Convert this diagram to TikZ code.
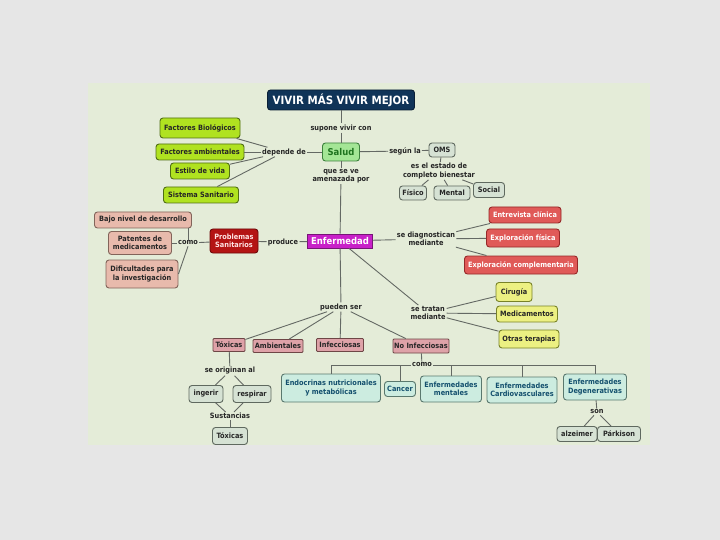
\documentclass[tikz,border=0pt]{standalone}
\usepackage{fontspec}
\setmainfont{DejaVu Sans Condensed}
\usepackage{xcolor}
\definecolor{navy}{RGB}{16,52,88}
\definecolor{panel}{RGB}{228,236,216}
\definecolor{bggrey}{RGB}{230,230,230}
\definecolor{wire}{RGB}{100,105,100}
\definecolor{lime}{RGB}{176,226,32}
\definecolor{limeline}{RGB}{80,110,20}
\definecolor{sage}{RGB}{214,226,212}
\definecolor{sageline}{RGB}{95,105,95}
\definecolor{salmon}{RGB}{232,186,172}
\definecolor{salmonline}{RGB}{130,100,90}
\definecolor{coral}{RGB}{224,90,88}
\definecolor{coralline}{RGB}{150,40,40}
\definecolor{pale}{RGB}{236,240,130}
\definecolor{paleline}{RGB}{120,130,40}
\definecolor{rose}{RGB}{222,162,168}
\definecolor{roseline}{RGB}{110,70,70}
\definecolor{mint}{RGB}{204,236,224}
\definecolor{mintline}{RGB}{90,120,110}
\definecolor{mintText}{RGB}{20,80,110}
\usepackage{tikz}
\usetikzlibrary{positioning}

\begin{document}
\begin{tikzpicture}[x=1pt, y=-1pt,
        box/.style={rectangle, rounded corners=3pt, draw=#1line, fill=#1, line width=0.9pt,
            inner sep=1pt, align=center, font=\fontsize{7.3}{8.3}\selectfont\bfseries, text=black!85},
        link/.style={inner sep=1pt, align=center, font=\fontsize{7.3}{8.3}\selectfont\bfseries, text=black!85},
        wires/.style={draw=wire, line width=0.9pt}
    ]
        % fondo y panel
        \fill[bggrey] (0,0) rectangle (720,540);
        \fill[panel] (88,83) rectangle (650,445);

        % nivel superior
        \node[rectangle, rounded corners=3pt, fill=navy, draw=navy!60!black, line width=0.9pt, text=white,
            font=\fontsize{11.4}{13}\selectfont\bfseries, minimum width=147, minimum height=20] (vivir) at (341,100) {VIVIR MÁS VIVIR MEJOR};
        \node[link] (supone) at (341,128) {supone vivir con};
        \node[rectangle, rounded corners=3pt, fill={rgb,255:red,164;green,230;blue,150}, draw={rgb,255:red,60;green,130;blue,60},
            line width=0.9pt, text={rgb,255:red,30;green,115;blue,30}, font=\fontsize{9.4}{11}\selectfont\bfseries,
            minimum width=37, minimum height=18] (salud) at (341,152) {Salud};

        % depende de
        \node[link] (depende) at (284,152) {depende de};
        \node[box=lime, minimum width=80, minimum height=20] (fbio) at (200,128) {Factores Biológicos};
        \node[box=lime, minimum width=88, minimum height=16] (famb) at (200,152) {Factores ambientales};
        \node[box=lime, minimum width=59, minimum height=16] (estilo) at (200,171) {Estilo de vida};
        \node[box=lime, minimum width=75, minimum height=16] (sist) at (201,195) {Sistema Sanitario};

        % OMS
        \node[link] (segun) at (405,151) {según la};
        \node[box=sage, minimum width=26, minimum height=14] (oms) at (442,150) {OMS};
        \node[link] (estado) at (439,171) {es el estado de\\completo bienestar};
        \node[box=sage, minimum width=27, minimum height=14] (fisico) at (413,193) {Físico};
        \node[box=sage, minimum width=36, minimum height=14] (mental) at (452,193) {Mental};
        \node[box=sage, minimum width=31, minimum height=15] (social) at (489,190) {Social};

        % enfermedad
        \node[link] (amenaza) at (341,176) {que se ve\\amenazada por};
        \node[rectangle, fill={rgb,255:red,200;green,32;blue,200}, draw={rgb,255:red,120;green,20;blue,120}, line width=0.9pt,
            text=white, font=\fontsize{9.4}{11}\selectfont\bfseries, minimum width=64, minimum height=14] (enf) at (340,241) {Enfermedad};
        \node[link] (produce) at (283,242) {produce};
        \node[rectangle, rounded corners=3pt, fill={rgb,255:red,180;green,20;blue,20}, draw={rgb,255:red,110;green,10;blue,10},
            line width=0.9pt, text=white!90!red, font=\fontsize{7.3}{8.3}\selectfont\bfseries, align=center,
            minimum width=48, minimum height=24, inner sep=1pt] (prob) at (234,241) {Problemas\\Sanitarios};
        \node[link] (como) at (188,243) {como};
        \node[box=salmon, minimum width=97, minimum height=16] (bajo) at (143,220) {Bajo nivel de desarrollo};
        \node[box=salmon, minimum width=63, minimum height=23] (patentes) at (140,243) {Patentes de\\medicamentos};
        \node[box=salmon, minimum width=72, minimum height=28] (dific) at (142,274) {Dificultades para\\la investigación};

        % diagnostico
        \node[link] (diag) at (426,239) {se diagnostican\\mediante};
        \node[box=coral, text=white, minimum width=72, minimum height=16] (entrev) at (525,215) {Entrevista clínica};
        \node[box=coral, text=white, minimum width=73, minimum height=18] (explf) at (523,238) {Exploración física};
        \node[box=coral, text=white, minimum width=113, minimum height=18] (explc) at (521,265) {Exploración complementaria};

        % tratamiento
        \node[link] (tratan) at (428,313) {se tratan\\mediante};
        \node[box=pale, minimum width=36, minimum height=19] (cirugia) at (514,292) {Cirugía};
        \node[box=pale, minimum width=61, minimum height=16] (medic) at (527,314) {Medicamentos};
        \node[box=pale, minimum width=60, minimum height=18] (otras) at (529,339) {Otras terapias};

        % tipos
        \node[link] (pueden) at (341,307) {pueden ser};
        \node[box=rose, rounded corners=1pt, minimum width=32, minimum height=13] (tox) at (229,345) {Tóxicas};
        \node[box=rose, rounded corners=1pt, minimum width=50, minimum height=13] (amb) at (278,346) {Ambientales};
        \node[box=rose, rounded corners=1pt, minimum width=47, minimum height=13] (infec) at (340,345) {Infecciosas};
        \node[box=rose, rounded corners=1pt, minimum width=56, minimum height=14] (noinf) at (421,346) {No Infecciosas};

        % toxicas
        \node[link] (originan) at (230,371) {se originan al};
        \node[box=sage, minimum width=34, minimum height=17] (ingerir) at (206,394) {ingerir};
        \node[box=sage, minimum width=38, minimum height=17] (respirar) at (252,394) {respirar};
        \node[link] (sustancias) at (230,416) {Sustancias};
        \node[box=sage, minimum width=35, minimum height=17] (toxicas) at (230,436) {Tóxicas};

        % no infecciosas
        \node[link] (comob) at (422,365) {como};
        \node[box=mint, text=mintText, minimum width=99, minimum height=28] (endo) at (331,388) {Endocrinas nutricionales\\y metabólicas};
        \node[box=mint, text=mintText, minimum width=31, minimum height=15] (cancer) at (400,389) {Cancer};
        \node[box=mint, text=mintText, minimum width=61, minimum height=26] (mentales) at (451,389) {Enfermedades\\mentales};
        \node[box=mint, text=mintText, minimum width=70, minimum height=26] (cardio) at (522,390) {Enfermedades\\Cardiovasculares};
        \node[box=mint, text=mintText, minimum width=63, minimum height=26] (degen) at (595,387) {Enfermedades\\Degenerativas};
        \node[link] (son) at (597,412) {son};
        \node[box=sage, minimum width=40, minimum height=15] (alz) at (577,434) {alzeimer};
        \node[box=sage, minimum width=43, minimum height=15] (park) at (619,434) {Párkison};

        % conectores
        \draw[wires] (vivir) -- (supone);
        \draw[wires] (supone) -- (salud);
        \draw[wires] (salud) -- (depende);
        \draw[wires] (depende) -- (fbio);
        \draw[wires] (depende) -- (famb);
        \draw[wires] (depende) -- (estilo);
        \draw[wires] (depende) -- (sist);
        \draw[wires] (salud) -- (segun);
        \draw[wires] (segun) -- (oms);
        \draw[wires] (oms) -- (estado);
        \draw[wires] (estado) -- (fisico);
        \draw[wires] (estado) -- (mental);
        \draw[wires] (estado) -- (social);
        \draw[wires] (salud) -- (amenaza);
        \draw[wires] (amenaza) -- (enf);
        \draw[wires] (enf) -- (produce);
        \draw[wires] (produce) -- (prob);
        \draw[wires] (prob) -- (como);
        \draw[wires] (como) -- (patentes);
        \draw[wires] (como.north) -- (como.north |- bajo.south);
        \draw[wires] (como.south) -- (dific.east);
        \draw[wires] (enf) -- (diag);
        \draw[wires] (diag) -- (entrev);
        \draw[wires] (diag) -- (explf);
        \draw[wires] (diag) -- (explc);
        \draw[wires] (enf) -- (tratan);
        \draw[wires] (tratan) -- (cirugia);
        \draw[wires] (tratan) -- (medic);
        \draw[wires] (tratan) -- (otras);
        \draw[wires] (enf) -- (pueden);
        \draw[wires] (pueden) -- (tox);
        \draw[wires] (pueden) -- (amb);
        \draw[wires] (pueden) -- (infec);
        \draw[wires] (pueden) -- (noinf);
        \draw[wires] (tox) -- (originan);
        \draw[wires] (originan) -- (ingerir);
        \draw[wires] (originan) -- (respirar);
        \draw[wires] (ingerir) -- (sustancias);
        \draw[wires] (respirar) -- (sustancias);
        \draw[wires] (sustancias) -- (toxicas);
        \draw[wires] (noinf) -- (comob);
        \draw[wires] (endo.north) |- (comob);
        \draw[wires] (cancer.north) |- (comob);
        \draw[wires] (mentales.north) |- (comob);
        \draw[wires] (cardio.north) |- (comob);
        \draw[wires] (degen.north) |- (comob);
        \draw[wires] (degen) -- (son);
        \draw[wires] (son) -- (alz);
        \draw[wires] (son) -- (park);
    \end{tikzpicture}
\end{document}
